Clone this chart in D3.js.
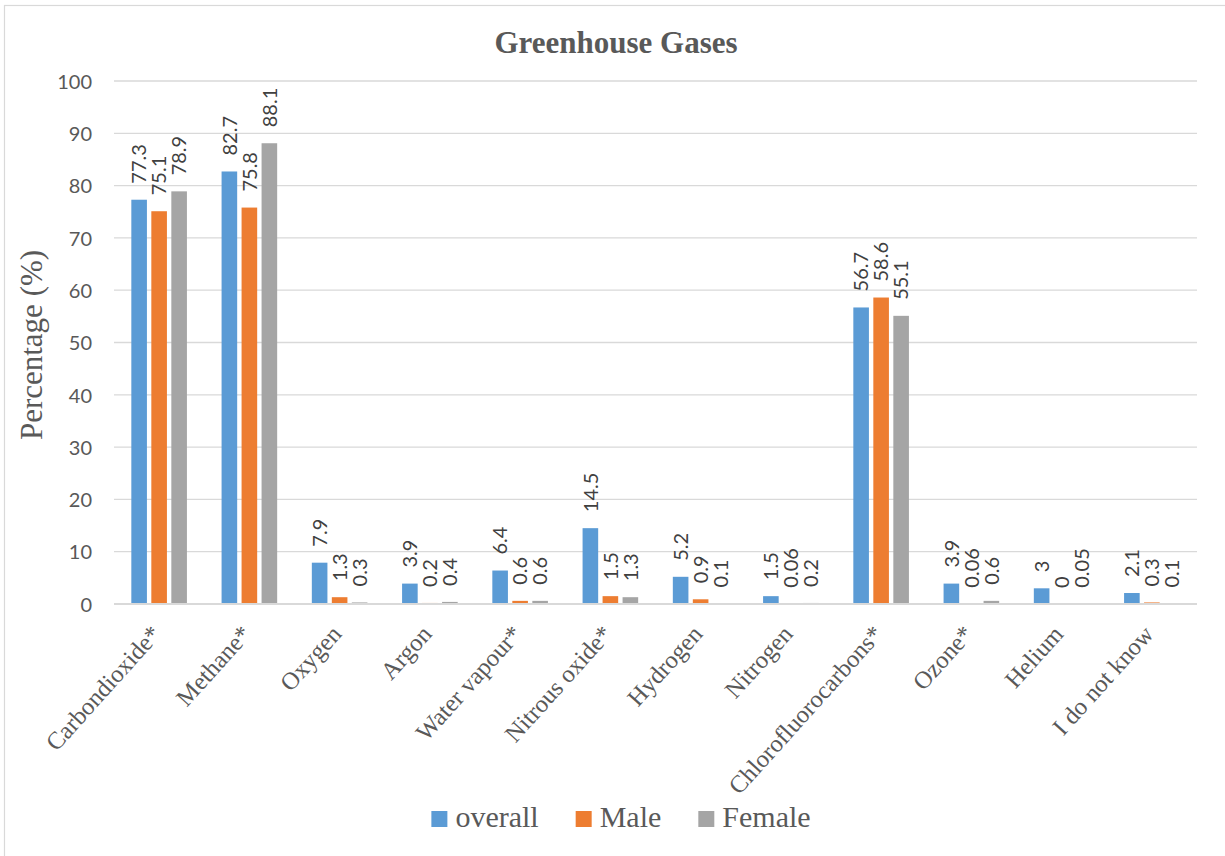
<!DOCTYPE html>
<html>
<head>
<meta charset="utf-8">
<script src="https://cdn.jsdelivr.net/npm/d3@7"></script>
<style>
  html, body { margin: 0; padding: 0; background: #ffffff; }
  svg { display: block; }
</style>
</head>
<body>
<svg id="chart" width="1225" height="856"></svg>
<script>
// Survey responses: which gases are greenhouse gases (percentage of respondents)
const categories = ["Carbondioxide*", "Methane*", "Oxygen", "Argon", "Water vapour*",
  "Nitrous oxide*", "Hydrogen", "Nitrogen", "Chlorofluorocarbons*", "Ozone*", "Helium", "I do not know"];
const seriesNames = ["overall", "Male", "Female"];
const overall = [77.3, 82.7, 7.9, 3.9, 6.4, 14.5, 5.2, 1.5, 56.7, 3.9, 3, 2.1];
const male    = [75.1, 75.8, 1.3, 0.2, 0.6, 1.5, 0.9, 0.06, 58.6, 0.06, 0, 0.3];
const female  = [78.9, 88.1, 0.3, 0.4, 0.6, 1.3, 0.1, 0.2, 55.1, 0.6, 0.05, 0.1];
const yTicks = [0, 10, 20, 30, 40, 50, 60, 70, 80, 90, 100];
const colors = ["#5B9BD5", "#ED7D31", "#A5A5A5"];

const series = [overall, male, female];
const svg = d3.select("#chart");
const W = 1225, H = 856;
const plot = { left: 114, right: 1197, top: 81, bottom: 604 };

// chart frame
svg.append("rect")
  .attr("x", 4.5).attr("y", 5.5)
  .attr("width", W + 10).attr("height", H + 10)
  .attr("fill", "#ffffff").attr("stroke", "#D9D9D9").attr("stroke-width", 1.2);

const x0 = d3.scaleBand().domain(categories)
  .range([plot.left, plot.right]).paddingInner(0.384).paddingOuter(0.192);
const x1 = d3.scaleBand().domain(seriesNames)
  .range([0, x0.bandwidth()]).paddingInner(0.22).paddingOuter(0);
const y = d3.scaleLinear().domain([0, 100]).range([plot.bottom, plot.top]);

// gridlines
svg.append("g").selectAll("line").data(yTicks.filter(t => t > 0)).join("line")
  .attr("x1", plot.left).attr("x2", plot.right)
  .attr("y1", d => y(d)).attr("y2", d => y(d))
  .attr("stroke", "#D9D9D9").attr("stroke-width", 1.3);

// y axis labels
const yAxis = d3.axisLeft(y).tickValues(yTicks).tickSize(0).tickPadding(0);
const yg = svg.append("g").attr("transform", `translate(${plot.left - 22},0)`).call(yAxis);
yg.select(".domain").remove();
yg.selectAll("text")
  .attr("font-family", "Lato, 'Liberation Sans', sans-serif")
  .attr("font-size", 20).attr("fill", "#595959").attr("dy", "0.36em");

// bars
const groups = svg.append("g").selectAll("g").data(categories).join("g")
  .attr("transform", d => `translate(${x0(d)},0)`);

groups.selectAll("rect")
  .data((c, i) => seriesNames.map((s, k) => ({ s, k, v: series[k][i] })))
  .join("rect")
  .attr("x", d => x1(d.s))
  .attr("width", x1.bandwidth())
  .attr("y", d => y(d.v))
  .attr("height", d => plot.bottom - y(d.v))
  .attr("fill", d => colors[d.k]);

// value labels, rotated above each bar
groups.selectAll("text.val")
  .data((c, i) => seriesNames.map((s, k) => ({ s, k, v: series[k][i] })))
  .join("text")
  .attr("class", "val")
  .attr("transform", d => `translate(${x1(d.s) + x1.bandwidth() / 2},${y(d.v) - 16}) rotate(-90)`)
  .attr("dy", "0.36em")
  .attr("font-family", "Lato, 'Liberation Sans', sans-serif")
  .attr("font-size", 20).attr("fill", "#404040")
  .text(d => String(d.v));

// x axis line
svg.append("line")
  .attr("x1", plot.left).attr("x2", plot.right)
  .attr("y1", plot.bottom).attr("y2", plot.bottom)
  .attr("stroke", "#D9D9D9").attr("stroke-width", 2);

// category labels
const xAxis = d3.axisBottom(x0).tickSize(0).tickPadding(0);
const xg = svg.append("g").attr("transform", `translate(0,${plot.bottom})`).call(xAxis);
xg.select(".domain").remove();
xg.selectAll("text")
  .attr("font-family", "'Liberation Serif', 'Times New Roman', serif")
  .attr("font-size", 24.5).attr("fill", "#595959")
  .attr("text-anchor", "end")
  .attr("dy", null).attr("y", null)
  .attr("transform", "translate(3,31) rotate(-48)");

// title
svg.append("text")
  .attr("x", 616).attr("y", 53)
  .attr("text-anchor", "middle")
  .attr("font-family", "'Liberation Serif', 'Times New Roman', serif")
  .attr("font-weight", "bold").attr("font-size", 31).attr("fill", "#595959")
  .text("Greenhouse Gases");

// y axis title
svg.append("text")
  .attr("transform", "translate(42,345) rotate(-90)")
  .attr("text-anchor", "middle")
  .attr("font-family", "'Liberation Serif', 'Times New Roman', serif")
  .attr("font-size", 31).attr("fill", "#595959")
  .text("Percentage (%)");

// legend
const legend = svg.append("g");
const items = legend.selectAll("g").data(seriesNames).join("g");
items.append("rect").attr("width", 16).attr("height", 16).attr("y", -16)
  .attr("fill", (d, i) => colors[i]);
items.append("text").attr("x", 24).attr("y", 0)
  .attr("font-family", "'Liberation Serif', 'Times New Roman', serif")
  .attr("font-size", 30).attr("fill", "#595959")
  .text(d => d);
let cx = 0;
items.each(function () {
  const w = this.getBBox().width;
  d3.select(this).attr("transform", `translate(${cx},0)`);
  cx += w + 37;
});
const total = cx - 37;
legend.attr("transform", `translate(${621 - total / 2},827)`);
</script>
</body>
</html>
